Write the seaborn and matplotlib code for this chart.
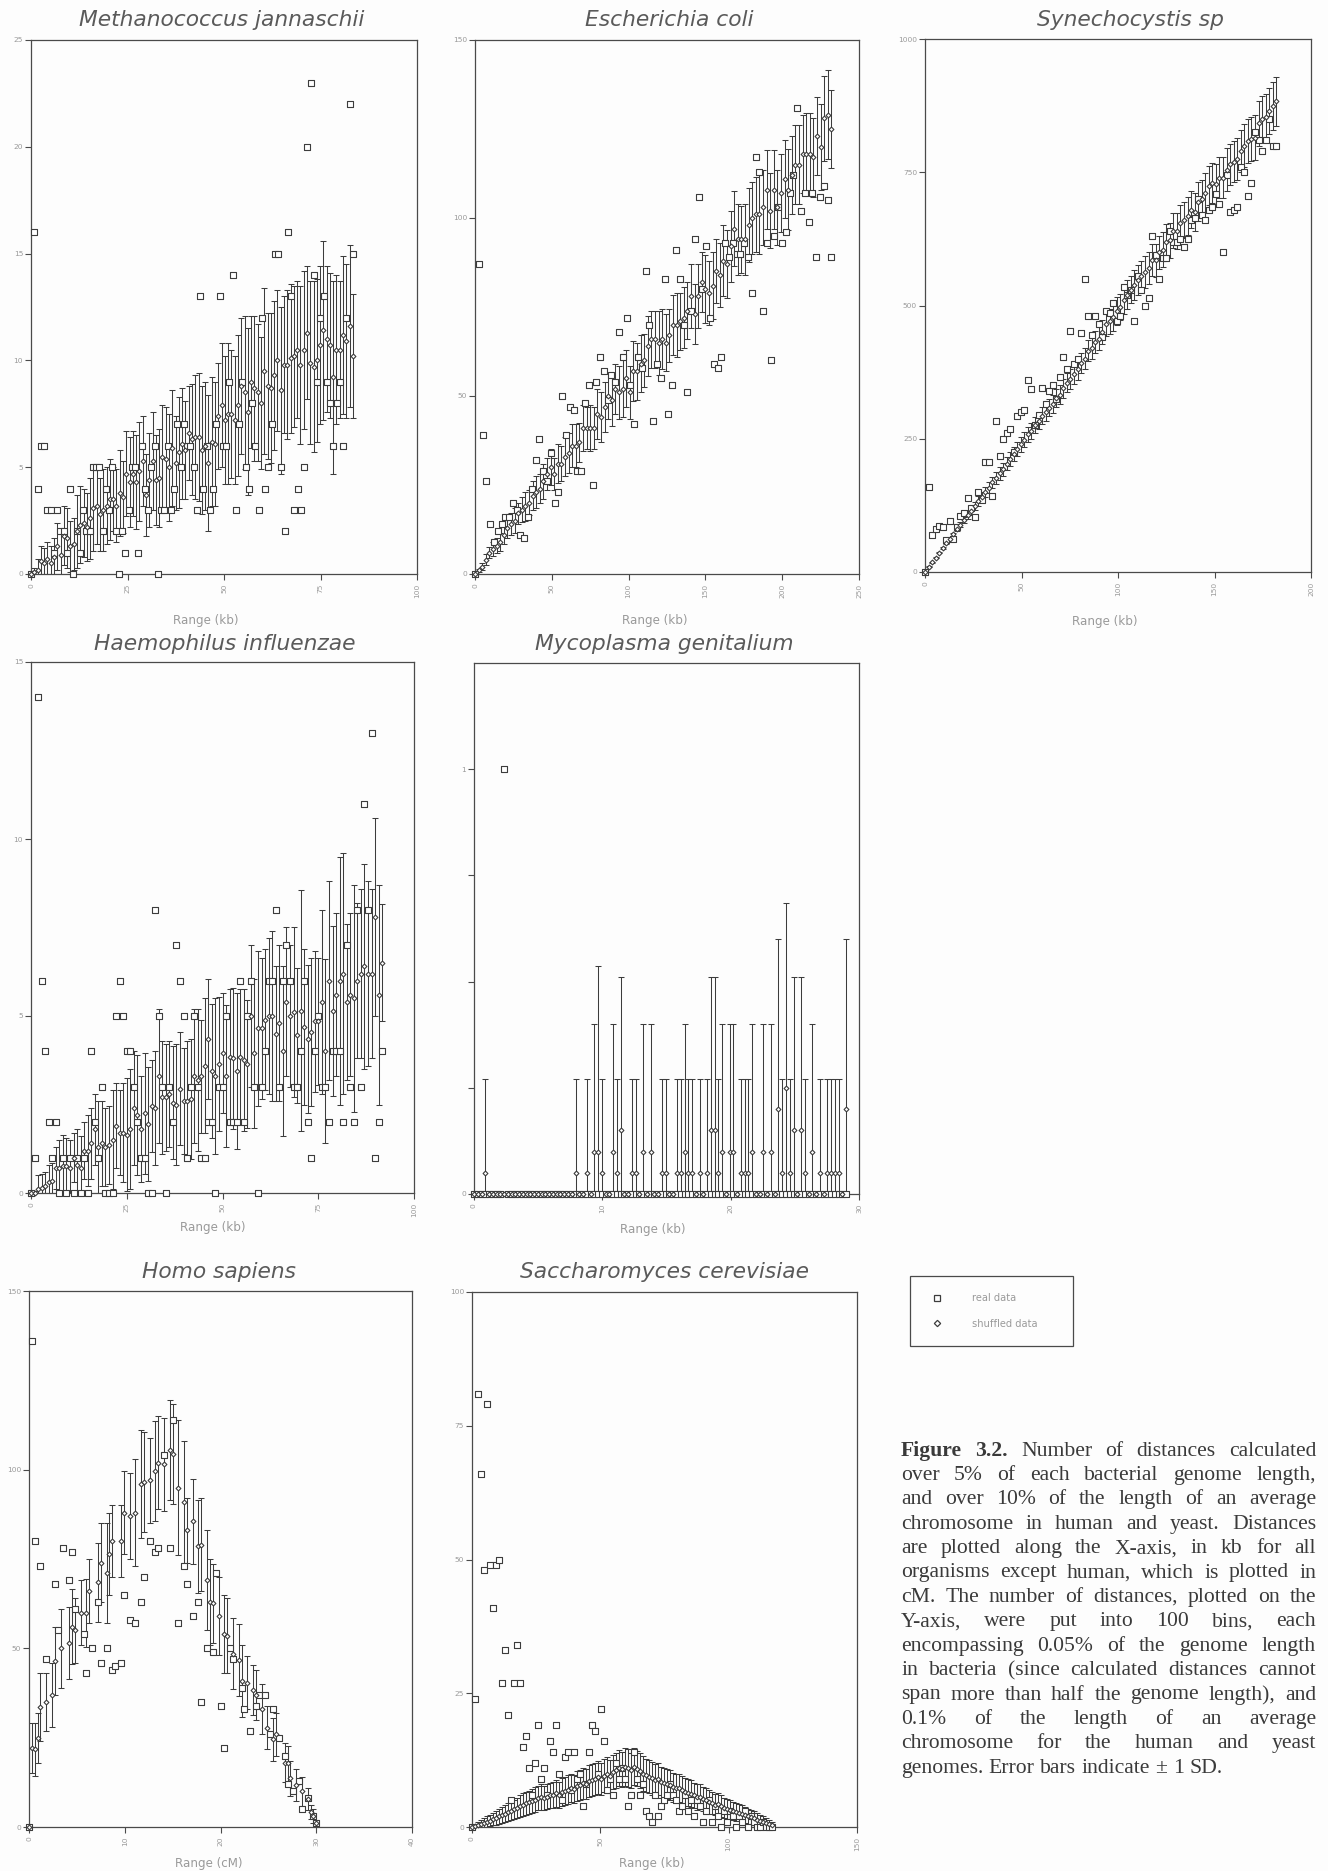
import numpy as np
import matplotlib
matplotlib.use("Agg")
import matplotlib.pyplot as plt
from matplotlib.lines import Line2D
from matplotlib.patches import Rectangle
import seaborn as sns

# ---------- data ----------
mj_real = [0,16,4,6,6,3,3,1,3,2, 2,1,4,0,2,1,3,2,2,5, 5,5,2,4,3,5,2,0,2,1, 3,5,5,1,6,4,3,5,6,0,
           3,3,6,3,4,7,5,7,6,6, 5,3,13,4,6,3,4,7,13,6, 6,9,14,3,7,9,5,4,8,6, 3,12,4,5,7,15,15,5,2,16,
           13,3,4,3,5,20,23,14,9,12, 13,9,8,6,8,9,6,12,22,15]
mj_mean = [0,.1,.2,.6,.5,.7,.5,.8,1.3,.9, 1.8,1.7,1.3,1.4,2.0,2.3,2.4,2.2,2.6,3.1, 3.2,2.8,3.0,3.2,3.5,3.5,3.2,3.8,3.6,4.7,
           4.3,4.7,4.3,4.8,5.3,3.7,4.4,5.3,4.4,4.5, 5.5,5.4,5,5.9,5.2,5.7,6.1,5.8,6.6,6.3, 6.4,6.4,5.8,6.0,5.2,6.2,6.1,7.4,7.9,7.2,
           7.5,7.5,7.2,7.9,8.8,8.5,7.6,9,8.7,8.5, 8,9.5,8.8,8.7,9.3,10,8.6,9.8,9.8,10.1, 10.2,10.5,9.8,10.5,11.3,9.9,9.7,10,10.7,11.4,
           11,10.7,9.2,10.5,10.5,11.2,10.9,11.6,10.2]
mj_sd = [0,.2,.5,.7,.7,.8,.8,.9,1.1,1, 1.4,1.4,1.2,1.2,1.7,1.8,1.6,1.6,1.9,2, 1.8,1.7,1.9,1.8,1.9,1.5,1.7,2,1.7,2,
         2.1,2,2.2,2.3,2.1,1.9,2.2,2.3,2.1,2.3, 2.4,2.4,2.5,2.7,2.2,2.6,2.6,2.3,2.2,2.6, 2.9,3,3,3,3.2,3.0,2.9,2.5,2.9,3,
         3.3,3,3,3.3,3.2,3.6,3.9,3.1,3.4,3.2, 3.1,3.9,3.4,3.5,3.5,3.3,3.9,3.2,3.5,3.5, 3.3,3.2,3.7,3.7,3.1,3.8,4,3.8,3.7,4.2,
         3.4,3.4,4.5,3.5,3.2,3.7,3.6,3.8,2.9]

ec_real = [0,87,39,26,14,9,12,14,16,16, 20,18,11,10,16,24,32,38,29,26, 34,20,23,50,39,47,46,29,29,48,
           53,25,54,61,57,49,56,54,68,61, 72,53,42,61,58,85,70,43,59,55, 83,45,53,91,83,70,51,74,94,106,
           80,92,72,59,58,61,93,89,93,90, 90,93,89,79,117,113,74,93,60,95, 103,93,96,107,112,131,102,107,99,107,
           89,106,109,105,89]
ec_mean = [0,1,2,4,6,7,8,9,11,13, 14,15,17,18,19,20,22,23,24,26, 28,30,28,31,31,33,34,36,36,37,
           41,41,41,41,45,44,47,50,49,52, 51,52,55,51,57,57,59,60,64,66, 66,65,66,65,67,70,70,71,72,74,
           78,73,78,82,80,79,81,85,84,88, 87,92,97,94,94,94,98,100,101,101, 103,108,102,108,103,107,111,108,112,115,
           115,118,118,118,117,123,120,128,129,125]
ec_sd = [0,.5,1,1.5,1.5,2,2,2.5,2.5,3, 3,3.5,3,3.5,4,3.5,4,4.5,4,5, 4.5,5,4.5,5.5,5,5.5,5.5,6,6,5.5,
         6.5,6,6.5,6,7,7,7,6.5,7.5,7, 7.5,8,8,7.5,8.5,8,8,7.5,8.5,8, 8,9,8.5,8,7.5,8.5,9,8,8.5,8,
         9,8.5,9,8.5,9.5,9,9.5,9,9,10, 9.5,10,10.5,10,9.5,10,10.5,10,10.5,11, 10.5,11,10.5,11,10.5,11,11,11.5,11,11,
         11,11,11.5,11.5,11,11,12,12,12.5,11]

sy_real = [0,160,69,80,86,85,60,95,62,85, 105,110,138,120,104,150,135,207,207,142, 283,217,250,260,268,226,292,300,304,361,
           344,275,295,345,315,340,350,325,365,403, 380,452,390,400,448,550,480,445,480,465, 440,490,485,505,470,480,535,520,530,471,
           555,530,500,515,630,595,550,590,590,640, 620,620,625,610,625,660,665,700,670,660, 680,685,710,690,600,745,675,680,685,760,
           750,705,730,825,810,790,810,850,800,800]
sy_mean = [0,10,18,27,36,45,54,62,71,80, 89,98,107,115,124,133,141,150,158,168, 176,185,193,203,212,222,230,240,248,258,
           265,275,283,293,300,308,315,327,333,345, 355,362,372,380,392,400,415,420,432,438, 450,465,470,478,490,497,510,520,530,538,
           548,555,562,570,585,585,600,605,620,622, 640,640,655,660,668,680,675,695,700,712, 725,730,728,740,740,755,765,770,775,790,
           800,808,812,815,842,850,853,865,875,883]
sy_sd = [0,1,1,1,1,2,2,3,3,4, 5,6,7,8,8,9,9,10,10,11, 11,12,12,12,13,13,13,14,14,14, 15,15,15,16,16,16,17,17,17,18,
         18,18,19,19,19,20,20,20,21,22, 22,23,24,25,26,25,26,27,26,28, 28,29,30,30,30,31,31,32,32,33, 33,34,34,34,35,35,36,36,36,37,
         37,37,38,38,38,40,38,39,39,40, 40,41,41,42,42,43,44,44,45,46]

hi_real = [0,1,14,6,4,2,1,2,0,1, 0,1,0,1,0,1,0,4,2,1, 3,0,0,0,5,6,5,4,4,3, 2,1,1,0,0,8,5,3,0,3,
           2,7,6,5,1,3,5,3,1,1, 2,2,0,3,3,5,2,2,2,6, 2,5,6,3,0,3,4,6,6,8, 3,6,7,6,3,3,4,6,2,1,
           4,5,3,3,2,4,4,4,2,7, 3,2,8,3,11,8,13,1,2,4]
hi_mean = [0,0,.1,.15,.2,.3,.35,.7,.7,.75, .75,.7,1,.8,.7,1.2,1.2,1.4,1.8,1.3, 1.4,1.3,1.35,1.5,1.9,1.7,1.7,1.65,1.8,2.4,
           2.2,1.8,2.25,1.95,2.45,2.4,3.3,2.7,2.7,2.8, 2.55,2.5,2.95,2.6,2.6,2.65,3.3,3.2,3.3,3.6, 4.35,3.45,3.3,3.65,3.95,3.3,3.85,3.8,3.45,3.85,
           3.75,3.65,5.0,3.95,4.65,4.65,4.9,5,5,4.5, 4.8,4,5.4,5,5.1,4.45,5.15,4.7,4.35,4.55, 4.85,4.85,5.4,4,6,5.15,5.6,6,6.2,5.4,
           5.6,5.5,6,6.2,6.4,6.2,6.2,7.8,5.6,6.5]
hi_sd = [0,.05,.4,.4,.4,.5,.5,.6,.8,.9, .8,.8,.7,1,.9,.8,1,1,1,1.3, 1.2,1.1,1.1,1.4,1.2,1.2,1.4,1.6,1.7,1.6,
         1.7,1.5,1.7,1.6,1.3,1.6,1.9,1.6,1.5,1.5, 1.6,1.7,1.6,1.5,1.7,1.7,1.9,2,1.6,1.9, 1.7,1.9,2.2,1.9,1.7,2,1.9,2,2.2,1.9,
         2,1.8,2,2.1,2.2,2,2,2.2,2.4,1.9, 2.2,2.4,2.1,2,2.4,1.9,3.4,2.2,2.1,2.1, 2.0,1.8,2.6,2.6,2.8,2.4,2.3,3.5,3.4,2.2,
         2.3,3.2,2.2,2.4,2.9,2.6,2.4,2.8,3.1,1.65]

mg_real = [0,0,0,0,0,0,0,0,1,0] + [0] * 90
mg_mean = [0,0,0,.05,0,0,0,0,0,0, 0,0,0,0,0,0,0,0,0,0, 0,0,0,0,0,0,0,.05,0,0,
           .05,0,.1,.1,.05,0,0,.1,.05,.15, 0,0,.05,.05,0,.1,0,.1,0,0, .05,.05,0,0,.05,.05,.1,.05,.05,0,
           .05,0,.05,.15,.15,.05,.1,0,.1,.1, 0,.05,.05,.05,.1,0,0,.1,0,.1, 0,.2,.05,.25,.05,.15,0,.15,.05,0,
           .1,0,.05,0,.05,.05,.05,.05,0,.2]
mg_sd = [0,0,0,.22,0,0,0,0,0,0, 0,0,0,0,0,0,0,0,0,0, 0,0,0,0,0,0,0,.22,0,0,
         .22,0,.3,.437,.22,0,0,.3,.22,.36, 0,0,.22,.22,0,.3,0,.3,0,0, .22,.22,0,0,.22,.22,.3,.22,.22,0,
         .22,0,.22,.36,.36,.22,.3,0,.3,.3, 0,.22,.22,.22,.3,0,0,.3,0,.3, 0,.4,.22,.435,.22,.36,0,.36,.22,0,
         .3,0,.22,0,.22,.22,.22,.22,0,.4]

hs_real_bins = [0,1,2,4,6,9,10,12,14,15,16,19,20,22,24,25,27,29,30,32,33,35,37,39,40,42,44,45,47,49,50,
                52,54,55,57,59,60,62,64,65,67,68,70,71,74,75,77,79,80,82,84,85,87,89,90,92,94,95,97,99,100]
hs_real = [0,136,80,73,47,68,55,78,69,77,61,54,43,50,63,46,50,44,45,46,65,58,57,63,70,80,77,78,104,78,114,
           57,73,68,59,63,35,50,49,71,34,22,50,47,39,33,27,34,37,37,26,33,25,20,12,10,13,5,8,3,1]
hs_mean_bins = [0,1,2,3,4,6,8,9,11,14,15,16,18,20,21,24,25,27,28,29,32,33,35,37,39,40,42,44,45,47,49,50,
                52,54,55,57,59,60,62,63,64,66,68,69,71,73,74,76,78,79,81,83,85,86,89,90,91,93,95,97,98,99,100]
hs_mean = [0,22,21.7,25,33.5,35,37,46.5,50,51.5,56,55,60,60,66,68.5,74,71,76.5,80,80,88,87,88,96,96.5,97,99.7,102,101.5,105.5,104.3,
           95,91,83,85.5,78.6,79,69,63,62.6,59,54,53.5,48.5,46.7,40.8,40.4,38.3,37,33,27.8,24.5,26,18,17.8,13.6,11.7,10,7.8,4.2,3,1]
hs_sd = [0,7,7.5,7,9.5,8,9,9.5,11,10,10.5,9,9,9.5,9,11,11,14,11.5,10,10,11.7,12,15,15,14,12,14,13,13,14,14,
         19,17,9,12,13,13,14,12,11,11,11,10.5,10,10,10,7.5,7,7,7,6,6,6,5.5,5,5,4.5,4,3,2,2,1]

sc_real = [0,24,81,66,48,79,49,41,49,50, 27,33,21,5,27,34,27,15,17,11, 6,12,19,9,11,6,16,14,19,10,
           5,13,14,7,14,9,10,4,8,14, 19,18,10,22,16,7,9,6,12,9, 11,9,4,6,14,9,6,8,3,2,
           1,6,2,4,5,6,8,6,5,3, 4,6,3,5,2,5,4,1,3,5, 1,4,2,0,3,1,3,2,0,2,
           1,3,0,2,1,0,0,1,0,0,0]
sc_mean = [0,.2,.4,.6,.8,1,1.2,1.5,1.7,2, 2.3,2.5,2.8,3,3.3,3.6,3.9,4.2,4.4,4.6, 4.9,5.1,5.4,5.6,5.4,5.7,5.9,6,6.3,6,
           6.5,6.8,7,7.3,7.1,7.6,7.9,8.2,8,8.6, 8.8,9,9.3,9,9.6,9.9,9.5,10.3,10.6,11, 10.8,11.2,11,10.6,11.3,10.9,10.5,10,9.7,9.4,
           9.1,8.8,8.9,8.4,8.2,8,7.8,7.4,7.2,7.3, 6.9,6.6,6.4,6.2,5.9,5.6,5.7,5.2,5,4.7, 4.5,4.2,4.3,3.9,3.6,3.4,3.2,3,2.8,2.7,
           2.5,2.2,2,1.8,1.6,1.4,1.2,1,.8,.6,.4]
sc_sd = [0,.3,.5,.7,.9,1,1.1,1.2,1.3,1.4, 1.5,1.6,1.7,1.7,1.8,1.9,2,2.1,2.1,2.1, 2.2,2.3,2.3,2.4,2.3,2.4,2.4,2.5,2.5,2.4,
         2.6,2.6,2.7,2.7,2.7,2.8,2.8,2.9,2.8,3, 3,3,3.1,3,3.1,3.2,3.1,3.2,3.3,3.4, 3.3,3.5,3.5,3.3,3.4,3.3,3.3,3.2,3.1,3.1,
         3.1,3,3,2.9,2.9,2.8,2.8,2.7,2.7,2.7, 2.6,2.6,2.5,2.5,2.4,2.4,2.4,2.3,2.2,2.2, 2.1,2,2.1,2,1.9,1.9,1.8,1.7,1.7,1.6,
         1.6,1.5,1.4,1.3,1.3,1.2,1.1,1,.9,.8,.6]

organisms = ["Methanococcus jannaschii", "Escherichia coli", "Synechocystis sp",
             "Haemophilus influenzae", "Mycoplasma genitalium", "Homo sapiens", "Saccharomyces cerevisiae"]
x_labels = ["Range (kb)", "Range (kb)", "Range (kb)", "Range (kb)", "Range (kb)", "Range (cM)", "Range (kb)"]
x_ticks = [[0,25,50,75,100], [0,50,100,150,200,250], [0,50,100,150,200],
           [0,25,50,75,100], [0,10,20,30], [0,10,20,30,40], [0,50,100,150]]
y_ticks = [[0,5,10,15,20,25], [0,50,100,150], [0,250,500,750,1000],
           [0,5,10,15], [0,.25,.5,.75,1], [0,50,100,150], [0,25,50,75,100]]
y_tick_labels = [None, None, None, None, ["0","","","","1"], None, None]
x_limits = [100, 250, 200, 100, 30, 40, 150]
y_limits = [25, 150, 1000, 15, 1.25, 150, 100]
last_x = [83.4, 232, 182, 91.7, 29, 30, 117]
series = [(mj_real, mj_mean, mj_sd), (ec_real, ec_mean, ec_sd), (sy_real, sy_mean, sy_sd),
          (hi_real, hi_mean, hi_sd), (mg_real, mg_mean, mg_sd), (hs_real, hs_mean, hs_sd), (sc_real, sc_mean, sc_sd)]
legend_labels = ["real data", "shuffled data"]
caption_lines = [
    "Figure 3.2. Number of distances calculated",
    "over 5% of each bacterial genome length,",
    "and over 10% of the length of an average",
    "chromosome in human and yeast. Distances",
    "are plotted along the X-axis, in kb for all",
    "organisms except human, which is plotted in",
    "cM. The number of distances, plotted on the",
    "Y-axis, were put into 100 bins, each",
    "encompassing 0.05% of the genome length",
    "in bacteria (since calculated distances cannot",
    "span more than half the genome length), and",
    "0.1% of the length of an average",
    "chromosome for the human and yeast",
    "genomes. Error bars indicate ± 1 SD.",
]

# ---------- layout (pixels in the output image) ----------
W, H = 1328, 1871
boxes = [(31,417,40,574), (475,859,40,574), (925,1311,39,572),
         (31,414,662,1193), (474,859,663,1194), (29,412,1291,1827), (472,857,1292,1827)]
title_pos = [(222,20), (669,20), (1130,20), (225,644), (664,644), (219,1272), (664,1272)]
label_pos = [(206,621), (655,621), (1105,621), (213,1228), (653,1229), (209,1863), (652,1864)]

DARK = "#3c3c3c"
AXIS = "#4a4a4a"
GREY = "#9a9a9a"
TITLE = "#5a5a5a"
PAPER = "#fdfdfd"

sns.set_theme(style="white")
plt.rcParams["font.family"] = ["DejaVu Sans"]
fig = plt.figure(figsize=(W / 100, H / 100), dpi=100, facecolor=PAPER)

for k, (real, mean, sd) in enumerate(series):
    l, r, t, b = boxes[k]
    ax = fig.add_axes([l / W, 1 - b / H, (r - l) / W, (b - t) / H], facecolor=PAPER)
    if k == 5:
        step = last_x[k] / 100
        xr = np.array(hs_real_bins) * step
        xm = np.array(hs_mean_bins) * step
    else:
        xr = np.arange(len(real)) * last_x[k] / (len(real) - 1)
        xm = np.arange(len(mean)) * last_x[k] / (len(mean) - 1)
    m = np.array(mean, float)
    s = np.array(sd, float)
    n = min(len(m), len(s), len(xm))
    xm, m, s = xm[:n], m[:n], s[:n]
    keep = s > 0
    ax.errorbar(xm[keep], m[keep], yerr=s[keep], fmt="none", ecolor=DARK,
                elinewidth=.75, capsize=2.4, capthick=.75, zorder=2)
    sns.scatterplot(x=xr, y=np.array(real, float), marker="s", s=14, color="white",
                    edgecolor=DARK, linewidth=.8, ax=ax, zorder=3, clip_on=False, legend=False)
    sns.scatterplot(x=xm, y=m, marker="D", s=6, color="white",
                    edgecolor=DARK, linewidth=.8, ax=ax, zorder=4, clip_on=False, legend=False)
    ax.set_xlim(0, x_limits[k])
    ax.set_ylim(0, y_limits[k])
    ax.set_xticks(x_ticks[k])
    ax.set_yticks(y_ticks[k])
    if y_tick_labels[k] is not None:
        ax.set_yticklabels(y_tick_labels[k])
    ax.tick_params(axis="x", direction="out", length=4, width=.8, color=AXIS,
                   labelsize=5.4, labelcolor=GREY, labelrotation=90, pad=3, bottom=True)
    ax.tick_params(axis="y", direction="out", length=4.2, width=.8, color=AXIS,
                   labelsize=5.4, labelcolor=GREY, pad=1.5, left=True)
    for spine in ax.spines.values():
        spine.set_color(AXIS)
        spine.set_linewidth(.9)
    ax.set_xlabel(x_labels[k], fontsize=8.6, color=GREY, va="center")
    ax.xaxis.set_label_coords((label_pos[k][0] - l) / (r - l), (b - label_pos[k][1]) / (b - t))
    ax.set_title(organisms[k], fontsize=15.7, style="italic", color=TITLE, va="center", ha="center",
                 x=(title_pos[k][0] - l) / (r - l), y=(b - title_pos[k][1]) / (b - t), pad=0)

# legend
fig.add_artist(Rectangle((910 / W, 1 - 1346 / H), 163 / W, 70 / H, transform=fig.transFigure,
                         facecolor="none", edgecolor=AXIS, linewidth=.9))
handles = [Line2D([], [], linestyle="none", marker="s", markersize=4.6, markerfacecolor="white",
                  markeredgecolor=DARK, markeredgewidth=.9),
           Line2D([], [], linestyle="none", marker="D", markersize=3.2, markerfacecolor="white",
                  markeredgecolor=DARK, markeredgewidth=.9)]
fig.legend(handles, legend_labels, loc="center left", bbox_to_anchor=(929 / W, 1 - 1311 / H),
           frameon=False, fontsize=7.1, labelcolor=GREY, handlelength=1.6, handletextpad=2.75,
           labelspacing=1.55, borderpad=0, borderaxespad=0)

# caption: justified word by word
CAP_L, CAP_R = 901, 1316
CAP_Y0, CAP_DY = 1451, 24.4
fig.canvas.draw()
renderer = fig.canvas.get_renderer()
for i, line in enumerate(caption_lines):
    words = line.split(" ")
    y = CAP_Y0 + i * CAP_DY
    items = []
    for j, word in enumerate(words):
        bold = i == 0 and j < 2
        items.append(fig.text(CAP_L / W, 1 - y / H, word, family="Liberation Serif", fontsize=15.6,
                              color="#3a3a3a", va="center", ha="left",
                              weight="bold" if bold else "normal"))
    widths = [it.get_window_extent(renderer).width for it in items]
    last = i == len(caption_lines) - 1
    gap = 5.5 if last else (CAP_R - CAP_L - sum(widths)) / (len(words) - 1)
    xp = CAP_L
    for it, wd in zip(items, widths):
        it.set_x(xp / W)
        xp += wd + gap

fig.savefig("out.png", dpi=100, facecolor=PAPER)
